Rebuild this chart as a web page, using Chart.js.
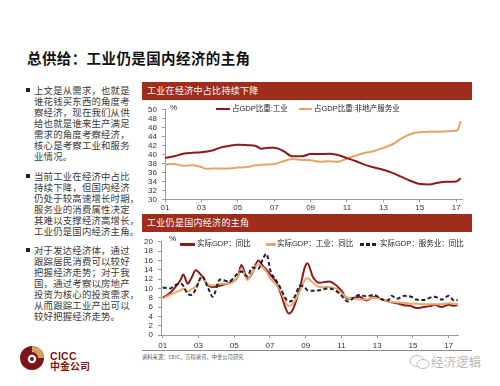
<!DOCTYPE html>
<html>
<head>
<meta charset="utf-8">
<script src="https://cdn.jsdelivr.net/npm/chart.js@4.4.1/dist/chart.umd.min.js"></script>
<style>
  html, body { margin: 0; padding: 0; background: #fff; }
  body { width: 500px; height: 386px; position: relative; overflow: hidden;
         font-family: "Noto Sans CJK SC", "Liberation Sans", sans-serif; color: #222; }
  .abs { position: absolute; white-space: nowrap; }
  .title { left: 27px; top: 48px; font-size: 14.5px; line-height: 20px; font-weight: 700; letter-spacing: 0.4px; color: #111; }
  .para { left: 34px; font-size: 9.4px; line-height: 11px; color: #3a3a3a; letter-spacing: 0.2px; }
  .bullet { position: absolute; left: -8px; top: 3px; width: 4px; height: 4px; background: #222; }
  .bar { left: 142px; width: 330px; height: 18px; background: #9e2d1c; color: #fff;
         font-size: 9px; line-height: 18px; padding-left: 5px; box-sizing: border-box; letter-spacing: 0.3px; }
  .box { position: absolute; left: 142px; width: 330px; }
  .lg { font-family: "Liberation Sans", "Noto Sans CJK SC", sans-serif; font-size: 7.5px; line-height: 10px; color: #222; }
  .sw { position: absolute; height: 2px; }
  .src { left: 142px; top: 353px; font-size: 5.3px; line-height: 8px; color: #555; }
  .wm { left: 431px; top: 353px; font-size: 12.5px; line-height: 18px; color: #b8b8b8; }
</style>
</head>
<body>
<div class="abs title">总供给：工业仍是国内经济的主角</div>

<div class="abs para" style="top:84.5px"><span class="bullet"></span>上文是从需求，也就是<br>谁花钱买东西的角度考<br>察经济，现在我们从供<br>给也就是谁来生产满足<br>需求的角度考察经济，<br>核心是考察工业和服务<br>业情况。</div>
<div class="abs para" style="top:171px"><span class="bullet"></span>当前工业在经济中占比<br>持续下降，但国内经济<br>仍处于较高速增长时期，<br>服务业的消费属性决定<br>其难以支撑经济高增长，<br>工业仍是国内经济主角。</div>
<div class="abs para" style="top:244.5px"><span class="bullet"></span>对于发达经济体，通过<br>跟踪居民消费可以较好<br>把握经济走势；对于我<br>国，通过考察以房地产<br>投资为核心的投资需求，<br>从而跟踪工业产出可以<br>较好把握经济走势。</div>

<div class="abs bar" style="top:82px">工业在经济中占比持续下降</div>
<div class="box" style="top:100px;height:112px"><canvas id="c1"></canvas></div>
<div class="abs lg" style="left:170px;top:103px;font-size:8px">%</div>
<div class="sw" style="left:216px;top:108px;width:14px;background:#8c1a1c"></div>
<div class="abs lg" style="left:232px;top:104px">占GDP比重:工业</div>
<div class="sw" style="left:299px;top:108px;width:13px;background:#e3a566"></div>
<div class="abs lg" style="left:314px;top:104px">占GDP比重:非地产服务业</div>

<div class="abs bar" style="top:214px">工业仍是国内经济的主角</div>
<div class="box" style="top:232px;height:118px"><canvas id="c2"></canvas></div>
<div class="abs lg" style="left:169px;top:234px;font-size:8px">%</div>
<div class="sw" style="left:180px;top:243px;width:15px;height:2.5px;background:#8c1a1c"></div>
<div class="abs lg" style="left:197px;top:239px">实际GDP：同比</div>
<div class="sw" style="left:266px;top:243px;width:10px;height:2.5px;background:#e8a870"></div>
<div class="abs lg" style="left:277px;top:239px">实际GDP：工业：同比</div>
<div class="sw" style="left:360px;top:243px;width:18px;height:2.5px;background:repeating-linear-gradient(90deg,#1d2230 0 4px,transparent 4px 6px)"></div>
<div class="abs lg" style="left:380px;top:239px">实际GDP：服务业：同比</div>

<div style="position:absolute;left:142px;top:350px;width:330px;height:1px;background:#8a8a8a"></div>
<div class="abs src">资料来源：CEIC，万得资讯，中金公司研究</div>

<svg class="abs" style="left:19px;top:345px" width="26" height="26" viewBox="0 0 26 26">
  <circle cx="13" cy="13" r="12" fill="#7c1517"/>
  <path d="M13 1 A12 12 0 0 1 25 13 L19 13 A6 6 0 0 0 13 7 Z" fill="#d2a062"/>
  <circle cx="13" cy="14" r="4.2" fill="#fff"/>
  <circle cx="13" cy="14" r="2" fill="#7c1517"/>
</svg>
<div class="abs" style="left:50px;top:350px;font-family:'Liberation Sans',sans-serif;font-weight:700;font-size:10.5px;line-height:12px;color:#7c1517;letter-spacing:0.3px">CICC</div>
<div class="abs" style="left:50px;top:360px;font-weight:700;font-size:10px;line-height:12px;color:#7c1517">中金公司</div>

<svg class="abs" style="left:409px;top:354px" width="22" height="16" viewBox="0 0 22 16">
  <ellipse cx="8" cy="7" rx="7" ry="5.5" fill="none" stroke="#bdbdbd" stroke-width="1"/>
  <ellipse cx="14" cy="10" rx="6" ry="4.5" fill="#fff" stroke="#bdbdbd" stroke-width="1"/>
</svg>
<div class="abs wm">经济逻辑</div>

<script>
// 工业 / 非地产服务业 占GDP比重 (%)
const shareYears = [2001.0, 2001.5, 2002.0, 2002.5, 2003.0, 2003.3, 2003.6, 2004.0, 2004.5, 2005.0, 2005.5, 2006.0, 2006.3, 2006.7, 2007.0, 2007.5, 2008.0, 2008.5, 2009.0, 2009.5, 2010.0, 2010.5, 2011.0, 2011.5, 2012.0, 2012.5, 2013.0, 2013.5, 2014.0, 2014.5, 2015.0, 2015.5, 2016.0, 2016.5, 2017.0, 2017.1, 2017.25];
const industryShare = [39.2, 39.6, 40.2, 40.4, 40.5, 40.7, 40.9, 41.5, 41.9, 42.2, 42.1, 41.9, 41.3, 41.5, 41.5, 40.8, 39.6, 39.6, 40.1, 40.1, 40.2, 39.9, 39.2, 38.5, 37.7, 37.1, 36.6, 35.9, 35.0, 34.1, 33.4, 33.3, 33.7, 33.9, 34.0, 34.2, 34.7];
const serviceShare = [37.8, 37.9, 37.5, 37.6, 37.2, 36.8, 36.9, 36.9, 36.9, 37.1, 37.2, 37.6, 37.7, 37.8, 37.9, 38.5, 39.0, 38.8, 38.7, 38.4, 38.5, 38.4, 39.1, 39.8, 40.4, 40.8, 41.5, 42.3, 43.6, 44.6, 45.0, 45.1, 45.1, 45.2, 45.3, 45.6, 47.5];

// 实际GDP同比 (%)
const gdpYears = [2001.0, 2001.4, 2001.75, 2002.0, 2002.15, 2002.4, 2002.6, 2002.85, 2003.2, 2003.55, 2003.8, 2004.2, 2004.7, 2005.2, 2005.4, 2005.75, 2006.0, 2006.35, 2006.6, 2006.8, 2007.05, 2007.3, 2007.6, 2007.85, 2008.05, 2008.3, 2008.7, 2008.95, 2009.1, 2009.4, 2009.75, 2010.3, 2010.67, 2011.0, 2011.35, 2011.75, 2012.0, 2012.4, 2012.8, 2013.3, 2013.6, 2013.8, 2014.1, 2014.5, 2014.9, 2015.2, 2015.6, 2015.95, 2016.2, 2016.6, 2017.0, 2017.3, 2017.5];
const gdpTotal = [8.0, 9.0, 10.5, 11.8, 13.0, 11.0, 12.2, 13.9, 12.6, 10.6, 10.3, 10.6, 11.2, 12.5, 15.0, 12.0, 13.2, 16.0, 14.8, 14.0, 12.8, 11.6, 9.0, 6.0, 4.6, 5.6, 10.5, 14.5, 15.4, 12.5, 11.2, 11.5, 10.8, 9.5, 7.8, 8.0, 8.2, 7.4, 8.2, 7.6, 7.3, 7.0, 6.8, 6.4, 6.2, 5.8, 6.0, 6.2, 6.5, 6.0, 6.5, 6.3, 6.4];
const gdpIndustry = [7.8, 8.6, 9.2, 9.6, 10.0, 9.3, 9.8, 10.4, 12.4, 10.8, 10.6, 11.0, 11.0, 12.5, 14.2, 11.8, 13.4, 15.2, 14.5, 13.6, 12.0, 11.0, 9.5, 7.2, 6.2, 6.8, 9.6, 11.8, 12.2, 11.2, 10.3, 10.3, 10.0, 9.0, 8.0, 7.8, 7.6, 7.6, 8.0, 7.6, 7.3, 7.1, 7.0, 6.9, 6.7, 6.7, 6.6, 6.6, 6.6, 6.6, 6.8, 6.7, 6.6];
const gdpService = [10.2, 10.0, 10.8, 11.0, 10.6, 8.8, 8.6, 9.8, 12.6, 10.0, 8.2, 11.9, 11.5, 13.2, 13.6, 12.6, 14.5, 14.2, 16.3, 17.4, 13.5, 12.0, 10.0, 8.0, 7.2, 7.6, 10.6, 10.2, 9.6, 9.5, 9.6, 10.0, 9.5, 8.5, 7.2, 8.2, 8.6, 8.3, 8.6, 7.6, 7.4, 8.4, 7.8, 8.4, 8.2, 7.6, 7.5, 8.0, 8.2, 7.6, 8.4, 7.4, 7.5];

const xTicks = [2001, 2003, 2005, 2007, 2009, 2011, 2013, 2015, 2017];

const toPoints = (xs, ys) => xs.map((x, i) => ({x: x, y: ys[i]}));
const yearLabel = (v) => String(Math.round(v) % 100).padStart(2, '0');

Chart.defaults.font.family = "'Liberation Sans', Arial, sans-serif";
Chart.defaults.font.size = 8;
Chart.defaults.color = '#333';

const lineSet = (label, pts, color, extra) => Object.assign({
    label: label,
    data: pts,
    borderColor: color,
    borderWidth: 2,
    pointRadius: 0,
    fill: false,
    cubicInterpolationMode: 'monotone'
}, extra || {});

const makeOptions = (cfg) => ({
    responsive: true,
    maintainAspectRatio: false,
    animation: false,
    layout: {padding: {left: 0, right: cfg.padRight, top: cfg.padTop, bottom: 0}},
    plugins: {legend: {display: false}, tooltip: {enabled: false}},
    scales: {
        x: {
            type: 'linear',
            min: cfg.xMin,
            max: cfg.xMax,
            afterBuildTicks: (axis) => { axis.ticks = xTicks.map(v => ({value: v})); },
            afterFit: (s) => { s.height = cfg.xHeight; },
            ticks: {callback: yearLabel, padding: cfg.xPad, maxRotation: 0, autoSkip: false},
            grid: {drawOnChartArea: false, tickLength: 3, color: '#999'},
            border: {color: '#999'}
        },
        y: {
            min: cfg.yMin,
            max: cfg.yMax,
            afterFit: (s) => { s.width = cfg.yWidth; },
            ticks: {stepSize: 2, padding: 5, autoSkip: false},
            grid: {drawOnChartArea: false, tickLength: 3, color: '#999'},
            border: {color: '#999'}
        }
    }
});

new Chart(document.getElementById('c1'), {
    type: 'line',
    data: {
        datasets: [
            lineSet('占GDP比重:工业', toPoints(shareYears, industryShare), '#8c1a1c'),
            lineSet('占GDP比重:非地产服务业', toPoints(shareYears, serviceShare), '#e3a566')
        ]
    },
    options: makeOptions({xMin: 2001, xMax: 2017.32, yMin: 30, yMax: 50,
        padRight: 10, padTop: 8, xHeight: 12.7, xPad: 1, yWidth: 23})
});

new Chart(document.getElementById('c2'), {
    type: 'line',
    data: {
        datasets: [
            lineSet('实际GDP：服务业：同比', toPoints(gdpYears, gdpService), '#1d2230', {borderDash: [4, 2.5]}),
            lineSet('实际GDP：工业：同比', toPoints(gdpYears, gdpIndustry), '#e8a870'),
            lineSet('实际GDP：同比', toPoints(gdpYears, gdpTotal), '#8c1a1c')
        ]
    },
    options: makeOptions({xMin: 2000.905, xMax: 2017.52, yMin: 0, yMax: 20,
        padRight: 14, padTop: 4.7, xHeight: 15, xPad: 3, yWidth: 19})
});
</script>
</body>
</html>
